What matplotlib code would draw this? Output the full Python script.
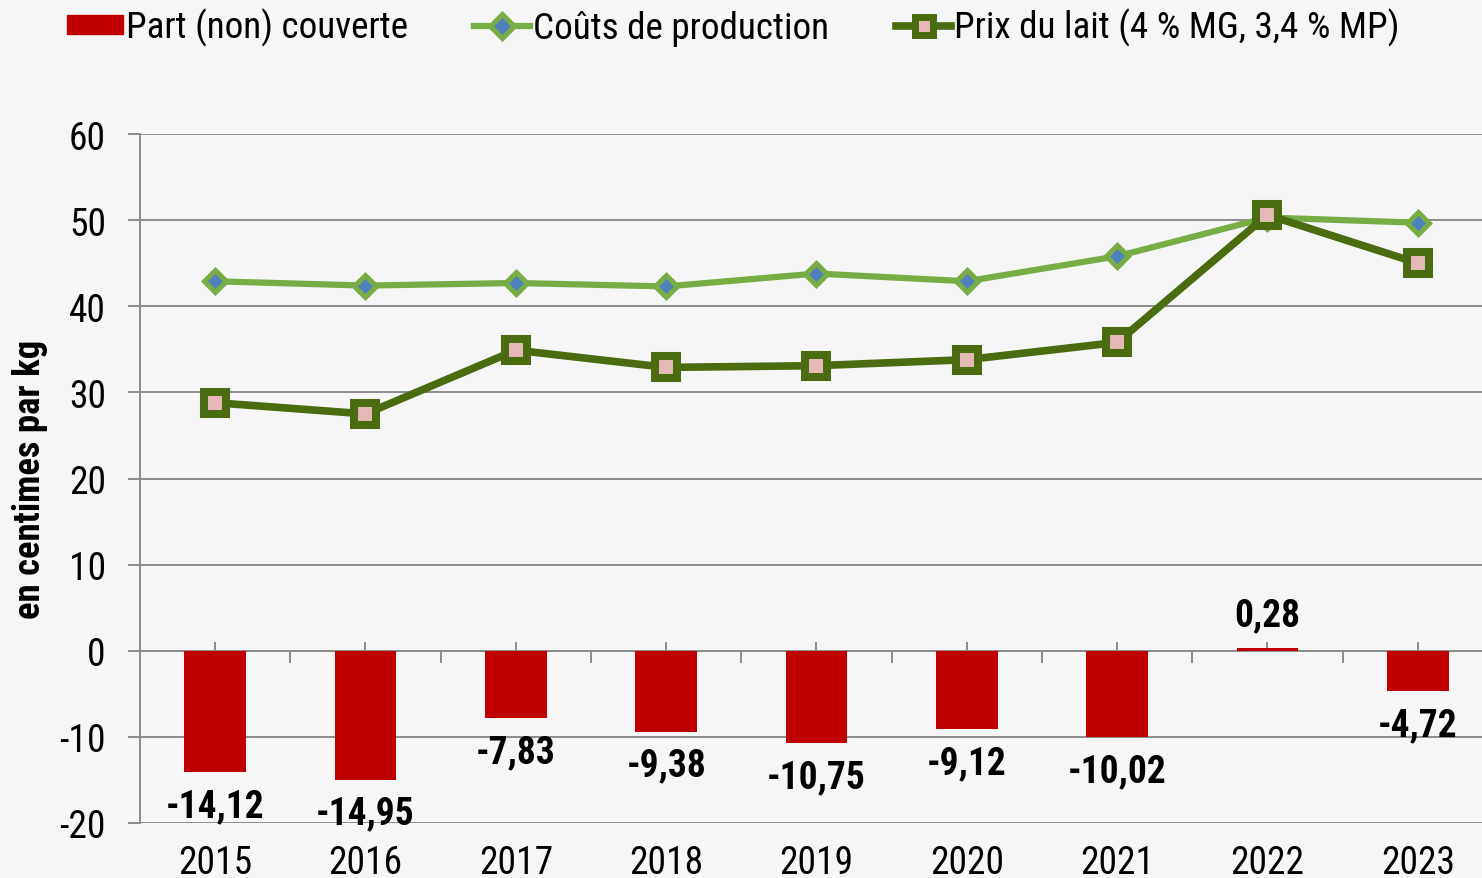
import numpy as np
import matplotlib
matplotlib.use("Agg")
import matplotlib.pyplot as plt
from matplotlib import font_manager as fm
from matplotlib.lines import Line2D
from matplotlib.patches import Patch
from matplotlib.ticker import FixedLocator, NullFormatter

# données (centimes par kg)
years = ["2015", "2016", "2017", "2018", "2019", "2020", "2021", "2022", "2023"]
part_couverte = [-14.12, -14.95, -7.83, -9.38, -10.75, -9.12, -10.02, 0.28, -4.72]
couts_production = [42.9, 42.4, 42.7, 42.3, 43.8, 42.9, 45.8, 50.3, 49.7]
prix_lait = [28.8, 27.5, 34.9, 32.9, 33.1, 33.8, 35.8, 50.6, 45.0]

# police étroite si disponible
installed = {f.name for f in fm.fontManager.ttflist}
font = "DejaVu Sans"
for cand in ["Roboto Condensed", "Liberation Sans Narrow", "Roboto"]:
    if cand in installed:
        font = cand
        break
plt.rcParams["font.family"] = [font, "DejaVu Sans"]
plt.rcParams["axes.unicode_minus"] = False

BG = "#f6f6f6"
GRID = "#8c8c8c"
RED = "#c00000"
LIGHT_GREEN = "#78ad45"
DARK_GREEN = "#4a6b10"

fig = plt.figure(figsize=(14.82, 8.79), dpi=100, facecolor=BG)
ax = fig.add_axes([140 / 1482, 1 - 824 / 879, (1493 - 140) / 1482, (824 - 135) / 879])
ax.set_facecolor(BG)

x = np.arange(len(years))

bars = ax.bar(x, part_couverte, width=0.41, color=RED, zorder=3)
ax.plot(x, couts_production, color=LIGHT_GREEN, lw=4.5, marker="D", markersize=11,
        markerfacecolor="#4f81bd", markeredgecolor=LIGHT_GREEN, markeredgewidth=3.6, zorder=4)
ax.plot(x, prix_lait, color=DARK_GREEN, lw=5.5, marker="s", markersize=15.5,
        markerfacecolor="#e6b9b8", markeredgecolor=DARK_GREEN, markeredgewidth=5.8,
        solid_joinstyle="round", zorder=5)

# étiquettes des barres
for xi, v in zip(x, part_couverte):
    txt = f"{v:.2f}".replace(".", ",")
    off = 24 if v >= 0 else -24
    ax.annotate(txt, (xi, v), xytext=(0, off), textcoords="offset points",
                ha="center", va="center", fontsize=27, fontweight="bold", zorder=6)

ax.set_xlim(-0.5, len(years) - 0.5)
ax.set_ylim(-20, 60)
ax.set_yticks(np.arange(-20, 61, 10))
ax.yaxis.grid(True, color=GRID, lw=1.4, zorder=0)
ax.set_axisbelow(True)
ax.tick_params(axis="y", length=8.6, width=1.4, color=GRID, pad=16, labelsize=27)
ax.set_xticks(x)
ax.set_xticklabels(years)
ax.tick_params(axis="x", length=0, pad=15, labelsize=27)
for s in ["top", "right", "bottom"]:
    ax.spines[s].set_visible(False)
ax.spines["left"].set_color(GRID)
ax.spines["left"].set_linewidth(1.4)

# axe des catégories à y = 0
sec = ax.secondary_xaxis(20 / 80)
sec.spines["bottom"].set_color(GRID)
sec.spines["bottom"].set_linewidth(1.4)
sec.xaxis.set_major_locator(FixedLocator(x[:-1] + 0.5))
sec.xaxis.set_minor_locator(FixedLocator(x))
sec.xaxis.set_major_formatter(NullFormatter())
sec.tick_params(which="major", direction="out", length=8.6, width=1.4, color=GRID)
sec.tick_params(which="minor", direction="in", length=6.5, width=1.4, color=GRID)

ax.set_ylabel("en centimes par kg", fontsize=26.5, fontweight="bold", labelpad=8)

handles = [
    Patch(facecolor=RED, edgecolor=RED),
    Line2D([], [], color=LIGHT_GREEN, lw=4.5, marker="D", markersize=12,
           markerfacecolor="#4f81bd", markeredgecolor=LIGHT_GREEN, markeredgewidth=3.6),
    Line2D([], [], color=DARK_GREEN, lw=5.5, marker="s", markersize=13,
           markerfacecolor="#e6b9b8", markeredgecolor=DARK_GREEN, markeredgewidth=5),
]
labels = ["Part (non) couverte", "Coûts de production", "Prix du lait (4 % MG, 3,4 % MP)"]
fig.legend(handles, labels, loc="upper left", bbox_to_anchor=(67 / 1482, 0.99), ncol=3,
           frameon=False, fontsize=26.7, handlelength=1.5, handleheight=0.43,
           handletextpad=0.08, columnspacing=1.8, borderpad=0, borderaxespad=0)

fig.savefig("out.png", dpi=100, facecolor=BG)
